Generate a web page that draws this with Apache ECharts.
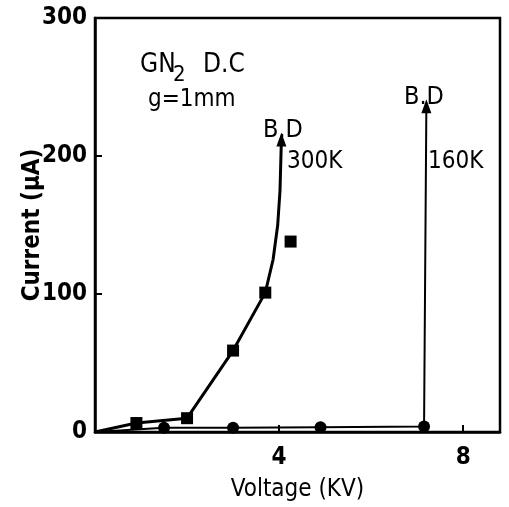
<!DOCTYPE html>
<html>
<head>
<meta charset="utf-8">
<script src="https://cdn.jsdelivr.net/npm/echarts@6/dist/echarts.min.js"></script>
<style>
  html, body { margin: 0; padding: 0; background: #fff; }
  #chart { width: 509px; height: 507px; }
</style>
</head>
<body>
<div id="chart"></div>
<script>
// 300K curve (squares), last point = breakdown
const volt300 = [0, 0.9, 2.0, 3.0, 3.7, 3.87, 3.97, 4.02, 4.05]
const curr300 = [0, 6.5, 10, 59, 101, 125, 150, 175, 212]
const mark300 = ['none', 'rect', 'rect', 'rect', 'rect', 'none', 'none', 'none', 'triangle']
// stray square off the 300K curve
const voltStray = [4.25]
const currStray = [138]
// 160K curve (circles), last point = breakdown
const volt160 = [0, 1.5, 3.0, 4.9, 7.15, 7.2]
const curr160 = [0, 3, 3, 3.5, 4, 236]
const mark160 = ['none', 'circle', 'circle', 'circle', 'circle', 'triangle']

const yTicks = [0, 100, 200, 300]
const xTicks = [4, 8]

const font = "'Liberation Sans Narrow', 'DejaVu Sans Condensed', sans-serif"

const chart = echarts.init(document.getElementById('chart'))

function pts (xs, ys, marks) {
  return xs.map((x, i) => {
    const p = { value: [x, ys[i]] }
    if (marks) {
      p.symbol = marks[i]
      p.symbolSize = marks[i] === 'triangle' ? [10, 14] : 12
    }
    return p
  })
}

const option = {
  backgroundColor: '#fff',
  animation: false,
  grid: {
    left: 95,
    right: 9,
    top: 18,
    bottom: 75,
    show: true,
    borderColor: '#000',
    borderWidth: 2.5
  },
  xAxis: {
    type: 'value',
    min: 0,
    max: 8.8,
    interval: 4,
    name: 'Voltage (KV)',
    nameLocation: 'middle',
    nameGap: 46,
    nameTextStyle: { color: '#000', fontSize: 24, fontFamily: font },
    axisLine: { lineStyle: { color: '#000', width: 2.5 } },
    axisTick: { inside: true, length: 7, lineStyle: { color: '#000', width: 2 } },
    splitLine: { show: false },
    axisLabel: {
      color: '#000',
      fontSize: 24,
      fontFamily: font,
      fontWeight: 'bold',
      margin: 14,
      formatter: v => (xTicks.indexOf(v) >= 0 ? String(v) : '')
    }
  },
  yAxis: {
    type: 'value',
    min: 0,
    max: 300,
    interval: 100,
    name: 'Current (μA)',
    nameLocation: 'middle',
    nameGap: 50,
    nameMoveOverlap: false,
    nameTextStyle: { color: '#000', fontSize: 24, fontFamily: font, fontWeight: 'bold' },
    axisLine: { show: true, lineStyle: { color: '#000', width: 2.5 } },
    axisTick: { show: true, inside: true, length: 7, lineStyle: { color: '#000', width: 2 } },
    splitLine: { show: false },
    axisLabel: {
      color: '#000',
      fontSize: 24,
      fontFamily: font,
      fontWeight: 'bold',
      margin: 8,
      formatter: v => (yTicks.indexOf(v) >= 0 ? String(v) : '')
    }
  },
  series: [
    {
      name: '300K',
      type: 'line',
      data: pts(volt300, curr300, mark300),
      lineStyle: { color: '#000', width: 3 },
      itemStyle: { color: '#000', opacity: 1 }
    },
    {
      name: 'stray',
      type: 'scatter',
      symbol: 'rect',
      symbolSize: 12,
      data: pts(voltStray, currStray),
      itemStyle: { color: '#000', opacity: 1 }
    },
    {
      name: '160K',
      type: 'line',
      data: pts(volt160, curr160, mark160),
      lineStyle: { color: '#000', width: 2 },
      itemStyle: { color: '#000', opacity: 1 }
    }
  ],
  graphic: [
    { type: 'text', left: 140, top: 52, style: { text: 'GN', fontSize: 26, fontFamily: font, fill: '#000' } },
    { type: 'text', left: 173, top: 64, style: { text: '2', fontSize: 22, fontFamily: font, fill: '#000' } },
    { type: 'text', left: 203, top: 52, style: { text: 'D.C', fontSize: 26, fontFamily: font, fill: '#000' } },
    { type: 'text', left: 148, top: 88, style: { text: 'g=1mm', fontSize: 24, fontFamily: font, fill: '#000' } },
    { type: 'text', left: 263, top: 118, style: { text: 'B.D', fontSize: 25, fontFamily: font, fill: '#000' } },
    { type: 'text', left: 287, top: 150, style: { text: '300K', fontSize: 24, fontFamily: font, fill: '#000' } },
    { type: 'text', left: 404, top: 85, style: { text: 'B.D', fontSize: 25, fontFamily: font, fill: '#000' } },
    { type: 'text', left: 428, top: 150, style: { text: '160K', fontSize: 24, fontFamily: font, fill: '#000' } }
  ]
}

chart.setOption(option)
</script>
</body>
</html>
